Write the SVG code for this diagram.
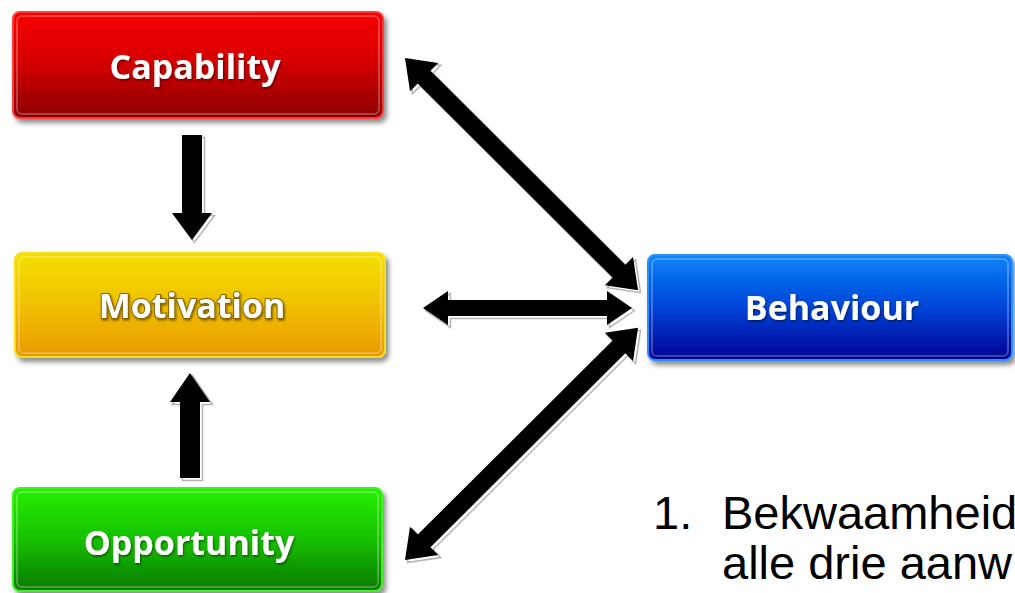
<svg xmlns="http://www.w3.org/2000/svg" width="1015" height="593" viewBox="0 0 1015 593">
<style>
  .lbl { font-family: "Open Sans", "DejaVu Sans", sans-serif; font-weight: bold; font-size: 34px; fill: #ffffff; text-anchor: middle; }
  .note { font-family: "Liberation Sans", Arial, sans-serif; font-size: 47px; fill: #000000; }
  .arrow { fill: #000000; }
  .arrowShadow { fill: #ffffff; stroke: #b4b4b4; stroke-width: 1.5; }
  .inner { fill: none; stroke: #ffffff; stroke-opacity: 0.25; stroke-width: 2; }
</style>
<defs>
  <linearGradient id="gRed" x1="0" y1="0" x2="0" y2="1">
    <stop offset="0" stop-color="#f70000"/>
    <stop offset="0.45" stop-color="#d80000"/>
    <stop offset="1" stop-color="#8a0000"/>
  </linearGradient>
  <linearGradient id="gYel" x1="0" y1="0" x2="0" y2="1">
    <stop offset="0" stop-color="#f4e000"/>
    <stop offset="0.5" stop-color="#f0c000"/>
    <stop offset="1" stop-color="#e99a00"/>
  </linearGradient>
  <linearGradient id="gGrn" x1="0" y1="0" x2="0" y2="1">
    <stop offset="0" stop-color="#26f000"/>
    <stop offset="0.5" stop-color="#16c000"/>
    <stop offset="1" stop-color="#0a7a00"/>
  </linearGradient>
  <linearGradient id="gBlu" x1="0" y1="0" x2="0" y2="1">
    <stop offset="0" stop-color="#0a84f8"/>
    <stop offset="0.5" stop-color="#0044d8"/>
    <stop offset="1" stop-color="#000090"/>
  </linearGradient>
  <filter id="shadow" x="-10%" y="-20%" width="125%" height="150%">
    <feDropShadow dx="3" dy="4" stdDeviation="2.5" flood-color="#000000" flood-opacity="0.45"/>
  </filter>
  <filter id="tshadow" x="-10%" y="-30%" width="120%" height="160%">
    <feDropShadow dx="1" dy="1.5" stdDeviation="1" flood-color="#000000" flood-opacity="0.5"/>
  </filter>
  <path id="diag" d="M0,0 L27,-20 L27,-9 L302,-9 L302,-20 L329,0 L302,20 L302,9 L27,9 L27,20 Z"/>
  <path id="horiz" d="M0,0 L25,-17 L25,-8 L184,-8 L184,-17 L209,0 L184,17 L184,8 L25,8 L25,17 Z"/>
  <path id="down" d="M182,135 L202,135 L202,213 L212,213 L192,240 L172,213 L182,213 Z"/>
  <path id="up" d="M180,478 L200,478 L200,402 L210,402 L190,373 L170,402 L180,402 Z"/>
</defs>

<rect width="1015" height="593" fill="#ffffff"/>

<g id="connectors">
  <g transform="translate(2.5,2.5)" class="arrowShadow">
    <use href="#down"/>
    <use href="#up"/>
    <use href="#horiz" transform="translate(423,308)"/>
    <use href="#diag" transform="translate(405,58) rotate(44.9)"/>
    <use href="#diag" transform="translate(405,560) rotate(-44.9)"/>
  </g>
  <g class="arrow">
    <use href="#down"/>
    <use href="#up"/>
    <use href="#horiz" transform="translate(423,308)"/>
    <use href="#diag" transform="translate(405,58) rotate(44.9)"/>
    <use href="#diag" transform="translate(405,560) rotate(-44.9)"/>
  </g>
</g>

<g id="capability">
  <rect x="13" y="12" width="370" height="106" rx="7" fill="url(#gRed)" stroke="#ff3a3a" stroke-width="2" filter="url(#shadow)"/>
  <rect x="17" y="16" width="362" height="98" rx="5" class="inner"/>
  <text x="195" y="79" class="lbl" filter="url(#tshadow)">Capability</text>
</g>

<g id="motivation">
  <rect x="15" y="253" width="370" height="104" rx="7" fill="url(#gYel)" stroke="#f6dc20" stroke-width="2" filter="url(#shadow)"/>
  <rect x="19" y="257" width="362" height="96" rx="5" class="inner"/>
  <text x="192" y="318" class="lbl" stroke="#8a6400" stroke-width="2" paint-order="stroke" filter="url(#tshadow)">Motivation</text>
</g>

<g id="opportunity">
  <rect x="13" y="488" width="369" height="103" rx="7" fill="url(#gGrn)" stroke="#40f020" stroke-width="2" filter="url(#shadow)"/>
  <rect x="17" y="492" width="361" height="95" rx="5" class="inner"/>
  <text x="189" y="555" class="lbl" filter="url(#tshadow)">Opportunity</text>
</g>

<g id="behaviour">
  <rect x="648" y="255" width="364" height="105" rx="7" fill="url(#gBlu)" stroke="#2a90ff" stroke-width="2" filter="url(#shadow)"/>
  <rect x="652" y="259" width="356" height="97" rx="5" class="inner"/>
  <text x="832" y="320" class="lbl" filter="url(#tshadow)">Behaviour</text>
</g>

<g id="note">
  <text class="note" y="529"><tspan x="653">1.</tspan><tspan x="722">Bekwaamheid</tspan></text>
  <text class="note" x="722" y="579">alle drie aanw</text>
</g>
</svg>
